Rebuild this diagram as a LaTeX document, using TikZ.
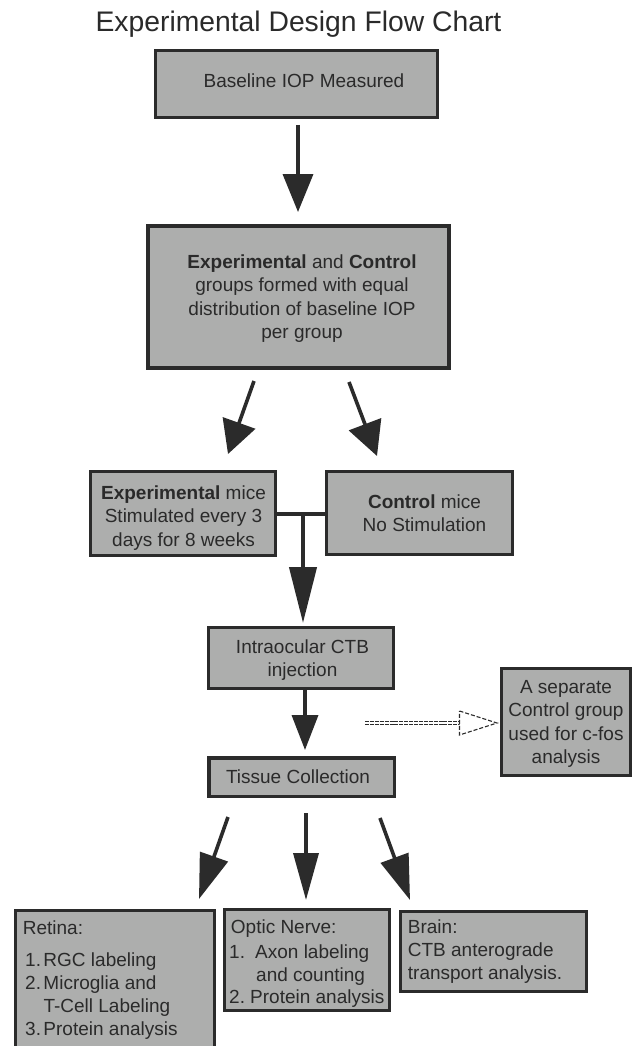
\documentclass[tikz,border=0pt]{standalone}
\usepackage{fontspec}
\setmainfont{Liberation Sans}
\usetikzlibrary{arrows.meta,calc}
\definecolor{boxfill}{HTML}{ADAEAD}
\definecolor{dk}{HTML}{2B2B2B}
\definecolor{txtc}{HTML}{2A2A2A}
\newcommand\clines[1]{\vtop{\baselineskip=23.3pt\lineskiplimit=-30pt\lineskip=0pt\halign{\hfil##\hfil\cr#1\crcr}}}
\newcommand\llines[1]{\vtop{\baselineskip=23pt\lineskiplimit=-30pt\lineskip=0pt\halign{##\hfil\cr#1\crcr}}}
\begin{document}
\begin{tikzpicture}[x=1pt,y=-1pt,
  box/.style={draw=dk, fill=boxfill, line width=3pt, inner sep=0pt, rectangle},
  txt/.style={text=txtc, inner sep=0pt, font=\fontsize{19}{23.3}\selectfont},
  arr/.style 2 args={draw=dk, line width=3.6pt, -{Triangle[length=#1pt, width=#2pt]}}]
\useasboundingbox (0,0) rectangle (634,1046);
\clip (0,0) rectangle (634,1046);
\fill[white] (0,0) rectangle (634,1046);

% title
\node[txt, font=\fontsize{28.3}{30}\selectfont, anchor=base] (title) at (298.5,32) {Experimental Design Flow Chart};

% boxes
\node[box, minimum width=282pt, minimum height=67pt] (base) at (296.5,84) {};
\node[txt, anchor=base] (baset) at (304,87.5) {Baseline IOP Measured};

\node[box, line width=4pt, minimum width=301pt, minimum height=142pt] (groups) at (298.5,297) {};
\node[txt, anchor=base] (groupst) at (302,268.5) {\clines{{\bfseries Experimental} and {\bfseries Control}\cr groups formed with equal\cr distribution of baseline IOP\cr per group}};

\node[box, minimum width=185pt, minimum height=84pt] (exp) at (183,513.5) {};
\node[txt, anchor=base] (expt) at (183.5,499.5) {\clines{{\bfseries Experimental} mice\cr Stimulated every 3\cr days for 8 weeks}};

\node[box, minimum width=186pt, minimum height=83pt] (ctrl) at (419.5,513) {};
\node[txt, anchor=base] (ctrlt) at (424.5,508.5) {\clines{{\bfseries Control} mice\cr No Stimulation}};

\node[box, minimum width=185pt, minimum height=61pt] (intra) at (301,658) {};
\node[txt, anchor=base] (intrat) at (302.5,653.5) {\clines{Intraocular CTB\cr injection}};

\node[box, line width=3.5pt, minimum width=185.5pt, minimum height=38.5pt] (tissue) at (301.5,777) {};
\node[txt, anchor=base] (tissuet) at (298,783) {Tissue Collection};

\node[box, minimum width=129pt, minimum height=107pt] (sep) at (566,722) {};
\node[txt, anchor=base] (sept) at (566,693.5) {\clines{A separate\cr Control group\cr used for c-fos\cr analysis}};

\node[box, minimum width=199pt, minimum height=160pt] (retina) at (115,990) {};
\node[txt, anchor=base west] (retinat) at (22.7,934) {\llines{Retina:\cr\noalign{\vskip9.5pt}\hskip2.3pt\hbox to 18.3pt{1.\hfil}RGC labeling\cr\hskip2.3pt\hbox to 18.3pt{2.\hfil}Microglia and\cr\hskip20.6pt T-Cell Labeling\cr\hskip2.3pt\hbox to 18.3pt{3.\hfil}Protein analysis}};

\node[box, minimum width=165pt, minimum height=101pt] (optic) at (307,960) {};
\node[txt, anchor=base west] (optict) at (229,933.5) {\llines{\hskip1.7pt Optic Nerve:\cr\noalign{\vskip2pt}\hbox to 26pt{1.\hfil}Axon labeling\cr\hskip27pt and counting\cr\noalign{\vskip-1pt}\hbox to 21pt{2.\hfil}Protein analysis}};

\node[box, minimum width=186pt, minimum height=80pt] (brain) at (493.5,951.5) {};
\node[txt, anchor=base west] (braint) at (407.7,933.5) {\llines{Brain:\cr CTB anterograde\cr transport analysis.}};

% arrow end points
\coordinate (a1s) at (298,125);  \coordinate (a1e) at (298,212);
\coordinate (a2s) at (254,381);  \coordinate (a2e) at (228,454);
\coordinate (a3s) at (349,382);  \coordinate (a3e) at (377,456);
\coordinate (tj)  at (303,514);  \coordinate (tje) at (303,623);
\coordinate (a4s) at (305,690);  \coordinate (a4e) at (305,750);
\coordinate (a5s) at (228,817);  \coordinate (a5e) at (199,899);
\coordinate (a6s) at (306,813);  \coordinate (a6e) at (306,900);
\coordinate (a7s) at (380,818);  \coordinate (a7e) at (410,900);

\draw[arr={38}{30}] (a1s) -- (a1e);
\draw[arr={33}{34}] (a2s) -- (a2e);
\draw[arr={34}{34}] (a3s) -- (a3e);
\draw[dk, line width=4.3pt] (exp.east |- tj) -- (ctrl.west |- tj);
\draw[arr={56}{27}, line width=4.3pt] (tj) -- (tje);
\draw[arr={35}{26}] (a4s) -- (a4e);
\draw[arr={45}{29}] (a5s) -- (a5e);
\draw[arr={47}{25}] (a6s) -- (a6e);
\draw[arr={45}{29}] (a7s) -- (a7e);

% dashed arrow
\coordinate (ds) at (365,723); \coordinate (dm) at (459.5,723); \coordinate (dt) at (497,723);
\draw[dk, line width=1.1pt, dash pattern=on 4pt off 0.9pt] ($(ds)+(0,-1.7)$) -- ($(dm)+(0,-1.7)$) ($(ds)+(0,1.7)$) -- ($(dm)+(0,1.7)$);
\draw[dk, line width=1.1pt, dash pattern=on 4pt off 2pt, fill=white] ($(dm)+(0,-12)$) -- (dt) -- ($(dm)+(0,12)$) -- cycle;
\end{tikzpicture}
\end{document}
